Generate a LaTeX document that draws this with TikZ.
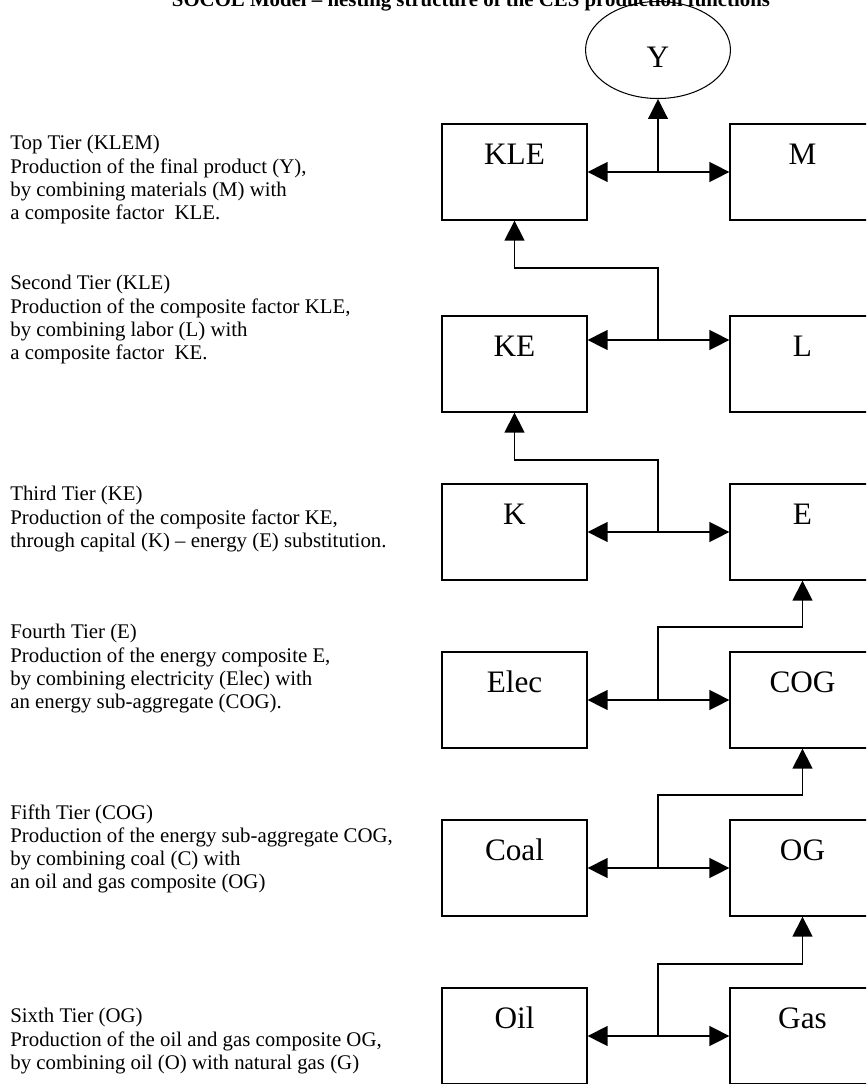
\documentclass[tikz,border=0pt]{standalone}
\usepackage{fontspec}
\setmainfont{Liberation Serif}
\usetikzlibrary{arrows.meta,shapes.geometric}

\tikzset{
  factor/.style={draw, line width=0.75pt, inner sep=0pt, minimum width=83.5pt, minimum height=55.3pt,
    text height=23.3pt, text depth=32pt, font=\fontsize{18}{20}\selectfont},
  product/.style={draw, ellipse, line width=0.6pt, inner sep=0pt, minimum width=83.5pt, minimum height=55.9pt,
    text height=20pt, text depth=0.4pt, font=\fontsize{18}{20}\selectfont},
  tiertext/.style={anchor=north west, inner sep=0pt, align=left, font=\fontsize{12}{13.4}\selectfont},
  nest/.style={line width=0.75pt, -{Triangle[length=11.5pt,width=11.5pt]}}
}

\begin{document}
\begin{tikzpicture}[x=0.02025cm, y=-0.02025cm]
  \useasboundingbox (0,0) rectangle (866,1084);
  \clip (0,0) rectangle (866,1084);
  \node[anchor=base, inner sep=0pt, font=\bfseries\fontsize{12}{14}\selectfont] (title) at (471,7) {SOCOL Model – nesting structure of the CES production functions};

  \node[product] (Y) at (658,50) {Y};
  \node[factor] (KLE) at (514.5,172) {KLE};
  \node[factor] (M) at (802.5,172) {M};
  \node[factor] (KE) at (514.5,364) {KE};
  \node[factor] (L) at (802.5,364) {L};
  \node[factor] (K) at (514.5,532) {K};
  \node[factor] (E) at (802.5,532) {E};
  \node[factor] (Elec) at (514.5,700) {Elec};
  \node[factor] (COG) at (802.5,700) {COG};
  \node[factor] (Coal) at (514.5,868) {Coal};
  \node[factor] (OG) at (802.5,868) {OG};
  \node[factor] (Oil) at (514.5,1036) {Oil};
  \node[factor] (Gas) at (802.5,1036) {Gas};

  \coordinate (j1) at (658,172);
  \coordinate (j2) at (658,340);
  \coordinate (j3) at (658,532);
  \coordinate (j4) at (658,700);
  \coordinate (j5) at (658,868);
  \coordinate (j6) at (658,1036);
  \coordinate (b2) at (658,268);
  \coordinate (b3) at (658,460);
  \coordinate (b4) at (658,627);
  \coordinate (b5) at (658,795);
  \coordinate (b6) at (658,964);

  \draw[nest] (j1) -- (KLE.east);
  \draw[nest] (j1) -- (M.west);
  \draw[nest] (j1) -- (Y.south);
  \draw[nest] (j2) -- (j2 -| KE.east);
  \draw[nest] (j2) -- (j2 -| L.west);
  \draw[nest] (j2) -- (b2) -| (KLE.south);
  \draw[nest] (j3) -- (K.east);
  \draw[nest] (j3) -- (E.west);
  \draw[nest] (j3) -- (b3) -| (KE.south);
  \draw[nest] (j4) -- (Elec.east);
  \draw[nest] (j4) -- (COG.west);
  \draw[nest] (j4) -- (b4) -| (E.south);
  \draw[nest] (j5) -- (Coal.east);
  \draw[nest] (j5) -- (OG.west);
  \draw[nest] (j5) -- (b5) -| (COG.south);
  \draw[nest] (j6) -- (Oil.east);
  \draw[nest] (j6) -- (Gas.west);
  \draw[nest] (j6) -- (b6) -| (OG.south);

  \node[tiertext] (tier1) at (10,135) {Top Tier (KLEM)\\Production of the final product (Y),\\by combining materials (M) with\\a composite factor~ KLE.};
  \node[tiertext] (tier2) at (10,275) {Second Tier (KLE)\\Production of the composite factor KLE,\\by combining labor (L) with\\a composite factor~ KE.};
  \node[tiertext] (tier3) at (10,486) {Third Tier (KE)\\Production of the composite factor KE,\\through capital (K) – energy (E) substitution.};
  \node[tiertext] (tier4) at (10,624) {Fourth Tier (E)\\Production of the energy composite E,\\by combining electricity (Elec) with\\an energy sub-aggregate (COG).};
  \node[tiertext] (tier5) at (10,804) {Fifth Tier (COG)\\Production of the energy sub-aggregate COG,\\by combining coal (C) with\\an oil and gas composite (OG)};
  \node[tiertext] (tier6) at (10,1008) {Sixth Tier (OG)\\Production of the oil and gas composite OG,\\by combining oil (O) with natural gas (G)};
\end{tikzpicture}
\end{document}
